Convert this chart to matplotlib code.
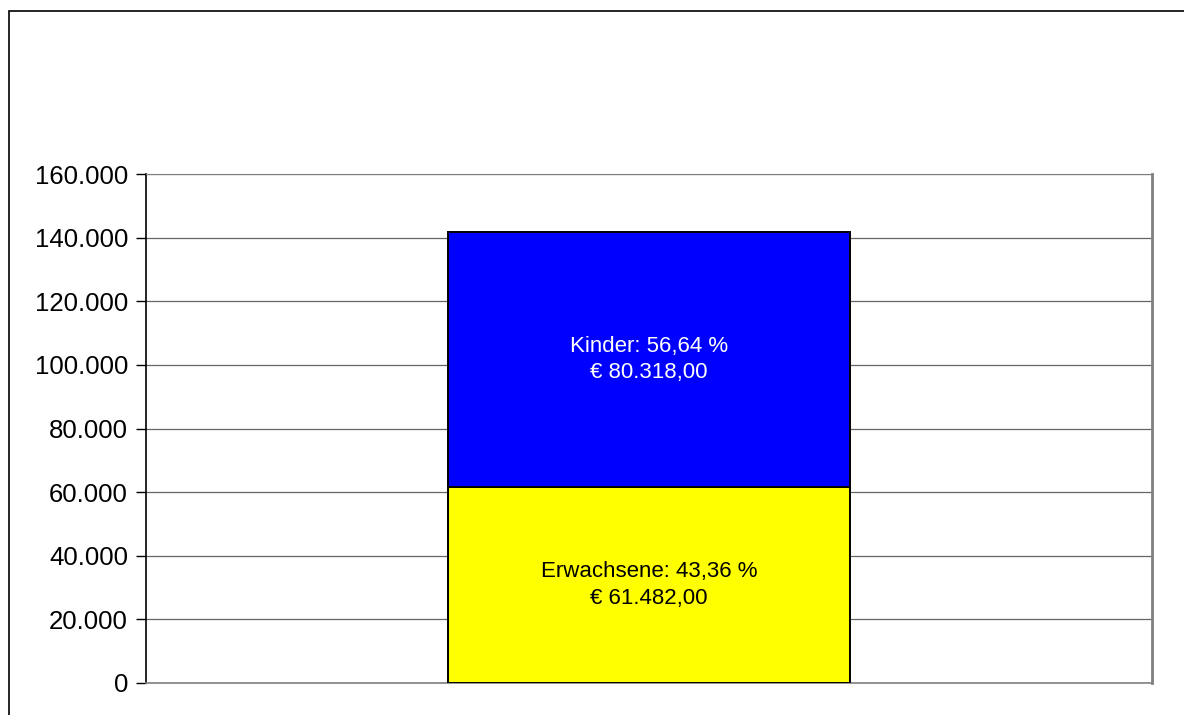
import matplotlib.pyplot as plt
from matplotlib.patches import Rectangle
from matplotlib.ticker import FuncFormatter

plt.rcParams["font.family"] = ["Liberation Sans", "DejaVu Sans"]

series = ["Erwachsene", "Kinder"]
values = [61482.00, 80318.00]
shares = ["43,36", "56,64"]
colors = ["#FFFF00", "#0000FF"]
text_colors = ["black", "white"]
yticks = [0, 20000, 40000, 60000, 80000, 100000, 120000, 140000, 160000]


def de_thousands(v, _pos=None):
    return f"{int(round(v)):,}".replace(",", ".")


def de_money(v):
    s = f"{v:,.2f}"
    return s.replace(",", "X").replace(".", ",").replace("X", ".")


fig = plt.figure(figsize=(11.84, 7.15), dpi=100)
# outer chart frame (clipped at right/bottom like the reference)
fig.patches.append(Rectangle((9 / 1184, -0.05), 1.2, 1 - 11 / 715 + 0.05,
                             transform=fig.transFigure, fill=False,
                             edgecolor="black", linewidth=1.2))

ax = fig.add_axes([146 / 1184, 32 / 715, 1006 / 1184, 509 / 715])
ax.set_xlim(-0.5, 0.5)
ax.set_ylim(0, 160000)
ax.set_yticks(yticks)
ax.yaxis.set_major_formatter(FuncFormatter(de_thousands))
ax.set_xticks([])
ax.grid(axis="y", color="#666666", linewidth=0.9)
ax.set_axisbelow(True)

bottom = 0
for name, val, sh, col, tc in zip(series, values, shares, colors, text_colors):
    ax.bar(0, val, width=0.4, bottom=bottom, color=col, edgecolor="black",
           linewidth=1.4, zorder=3)
    ax.text(0, bottom + val / 2, f"{name}: {sh} %\n€ {de_money(val)}",
            ha="center", va="center", color=tc, fontsize=16, linespacing=1.35,
            zorder=4)
    bottom += val

for side in ["top", "right", "bottom"]:
    ax.spines[side].set_color("#808080")
ax.spines["right"].set_linewidth(2)
ax.spines["bottom"].set_linewidth(1.2)
ax.spines["left"].set_color("black")
ax.spines["left"].set_linewidth(1.2)
ax.tick_params(axis="y", labelsize=18.5, length=7, width=1, pad=6, colors="black")

fig.savefig("out.png", dpi=100)
